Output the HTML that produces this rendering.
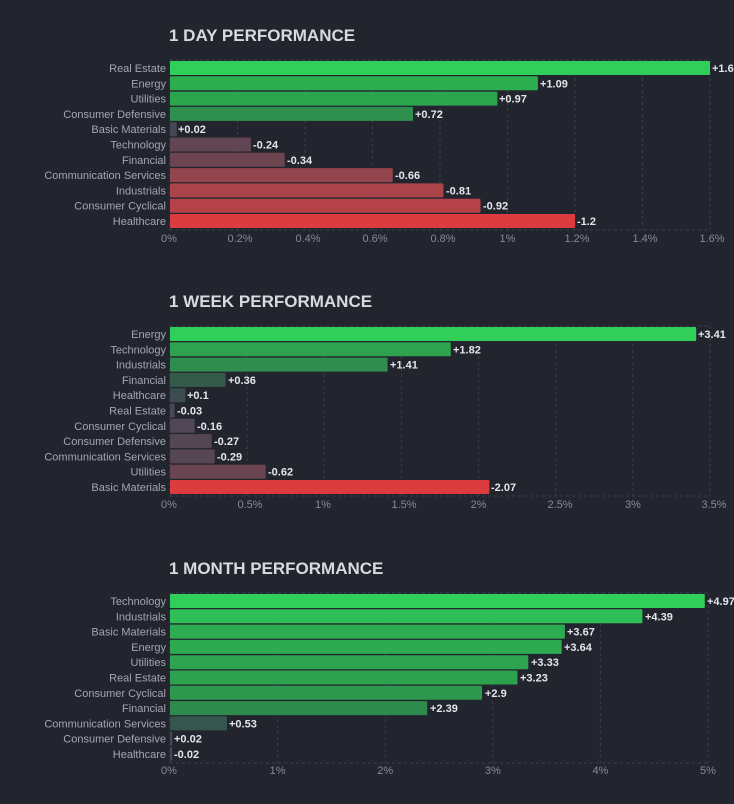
<!DOCTYPE html>
<html><head><meta charset="utf-8"><style>
html,body{margin:0;padding:0;background:#22252e;}
svg{display:block;font-family:"Liberation Sans",sans-serif;}
.t{font-size:17px;font-weight:bold;fill:#d8dae2;}
.c{font-size:11px;fill:#a3a6b4;text-anchor:end;}
.v{font-size:11px;font-weight:bold;fill:#e4e6ec;}
.k{font-size:11px;fill:#868a98;text-anchor:middle;}
.g{stroke:#3a3e4a;stroke-dasharray:3,3;stroke-width:1;}
</style></head><body>
<svg width="734" height="804" viewBox="0 0 734 804">
<!-- Chart 1 -->
<text class="t" x="169" y="41">1 DAY PERFORMANCE</text>
<line class="g" x1="170" y1="60" x2="710" y2="60"/>
<line class="g" x1="170" y1="230" x2="710" y2="230"/>
<g class="g"><line x1="170" y1="60" x2="170" y2="230"/><line x1="237.5" y1="60" x2="237.5" y2="230"/><line x1="305" y1="60" x2="305" y2="230"/><line x1="372.5" y1="60" x2="372.5" y2="230"/><line x1="440" y1="60" x2="440" y2="230"/><line x1="507.5" y1="60" x2="507.5" y2="230"/><line x1="575" y1="60" x2="575" y2="230"/><line x1="642.5" y1="60" x2="642.5" y2="230"/><line x1="710" y1="60" x2="710" y2="230"/></g>
<rect x="170" y="61" width="540" height="14" rx="1" fill="#30cf5a"/>
<rect x="170" y="76.3" width="367.9" height="14" rx="1" fill="#2cad4f"/>
<rect x="170" y="91.6" width="327.4" height="14" rx="1" fill="#2da44e"/>
<rect x="170" y="106.9" width="243" height="14" rx="1" fill="#2f8f4e"/>
<rect x="170" y="122.2" width="6.75" height="14" rx="1" fill="#454955"/>
<rect x="170" y="137.5" width="81" height="14" rx="1" fill="#624552"/>
<rect x="170" y="152.8" width="114.75" height="14" rx="1" fill="#6c4550"/>
<rect x="170" y="168.1" width="222.75" height="14" rx="1" fill="#94444c"/>
<rect x="170" y="183.4" width="273.4" height="14" rx="1" fill="#aa434a"/>
<rect x="170" y="198.7" width="310.5" height="14" rx="1" fill="#b44248"/>
<rect x="170" y="214" width="405" height="14" rx="1" fill="#dc3c3f"/>
<g class="c"><text x="166" y="72">Real Estate</text><text x="166" y="87.3">Energy</text><text x="166" y="102.6">Utilities</text><text x="166" y="117.9">Consumer Defensive</text><text x="166" y="133.2">Basic Materials</text><text x="166" y="148.5">Technology</text><text x="166" y="163.8">Financial</text><text x="166" y="179.1">Communication Services</text><text x="166" y="194.4">Industrials</text><text x="166" y="209.7">Consumer Cyclical</text><text x="166" y="225">Healthcare</text></g>
<g class="v"><text x="712" y="72">+1.6</text><text x="540" y="87.3">+1.09</text><text x="499" y="102.6">+0.97</text><text x="415" y="117.9">+0.72</text><text x="178" y="133.2">+0.02</text><text x="253" y="148.5">-0.24</text><text x="287" y="163.8">-0.34</text><text x="395" y="179.1">-0.66</text><text x="446" y="194.4">-0.81</text><text x="483" y="209.7">-0.92</text><text x="577" y="225">-1.2</text></g>
<g class="k"><text x="169" y="242">0%</text><text x="240" y="242">0.2%</text><text x="308" y="242">0.4%</text><text x="375" y="242">0.6%</text><text x="443" y="242">0.8%</text><text x="507.5" y="242">1%</text><text x="577" y="242">1.2%</text><text x="645" y="242">1.4%</text><text x="712" y="242">1.6%</text></g>

<!-- Chart 2 -->
<text class="t" x="169" y="307">1 WEEK PERFORMANCE</text>
<line class="g" x1="170" y1="326" x2="710" y2="326"/>
<line class="g" x1="170" y1="496" x2="710" y2="496"/>
<g class="g"><line x1="170" y1="326" x2="170" y2="496"/><line x1="247.1" y1="326" x2="247.1" y2="496"/><line x1="324.3" y1="326" x2="324.3" y2="496"/><line x1="401.4" y1="326" x2="401.4" y2="496"/><line x1="478.6" y1="326" x2="478.6" y2="496"/><line x1="555.7" y1="326" x2="555.7" y2="496"/><line x1="632.9" y1="326" x2="632.9" y2="496"/><line x1="710" y1="326" x2="710" y2="496"/></g>
<rect x="170" y="327" width="526.2" height="14" rx="1" fill="#30cf5a"/>
<rect x="170" y="342.3" width="280.8" height="14" rx="1" fill="#2ea24e"/>
<rect x="170" y="357.6" width="217.6" height="14" rx="1" fill="#2f8d4e"/>
<rect x="170" y="372.9" width="55.5" height="14" rx="1" fill="#365a4a"/>
<rect x="170" y="388.2" width="15.4" height="14" rx="1" fill="#3b4d50"/>
<rect x="170" y="403.5" width="4.6" height="14" rx="1" fill="#474956"/>
<rect x="170" y="418.8" width="24.7" height="14" rx="1" fill="#504756"/>
<rect x="170" y="434.1" width="41.7" height="14" rx="1" fill="#554654"/>
<rect x="170" y="449.4" width="44.7" height="14" rx="1" fill="#574654"/>
<rect x="170" y="464.7" width="95.7" height="14" rx="1" fill="#6a4551"/>
<rect x="170" y="480" width="319.4" height="14" rx="1" fill="#dc3c3f"/>
<g class="c"><text x="166" y="338">Energy</text><text x="166" y="353.3">Technology</text><text x="166" y="368.6">Industrials</text><text x="166" y="383.9">Financial</text><text x="166" y="399.2">Healthcare</text><text x="166" y="414.5">Real Estate</text><text x="166" y="429.8">Consumer Cyclical</text><text x="166" y="445.1">Consumer Defensive</text><text x="166" y="460.4">Communication Services</text><text x="166" y="475.7">Utilities</text><text x="166" y="491">Basic Materials</text></g>
<g class="v"><text x="698" y="338">+3.41</text><text x="453" y="353.3">+1.82</text><text x="390" y="368.6">+1.41</text><text x="228" y="383.9">+0.36</text><text x="187" y="399.2">+0.1</text><text x="177" y="414.5">-0.03</text><text x="197" y="429.8">-0.16</text><text x="214" y="445.1">-0.27</text><text x="217" y="460.4">-0.29</text><text x="268" y="475.7">-0.62</text><text x="491" y="491">-2.07</text></g>
<g class="k"><text x="169" y="508">0%</text><text x="250" y="508">0.5%</text><text x="323" y="508">1%</text><text x="404" y="508">1.5%</text><text x="478.6" y="508">2%</text><text x="560" y="508">2.5%</text><text x="632.9" y="508">3%</text><text x="714" y="508">3.5%</text></g>

<!-- Chart 3 -->
<text class="t" x="169" y="574">1 MONTH PERFORMANCE</text>
<line class="g" x1="170" y1="593" x2="710" y2="593"/>
<line class="g" x1="170" y1="763" x2="710" y2="763"/>
<g class="g"><line x1="170" y1="593" x2="170" y2="763"/><line x1="277.6" y1="593" x2="277.6" y2="763"/><line x1="385.2" y1="593" x2="385.2" y2="763"/><line x1="492.8" y1="593" x2="492.8" y2="763"/><line x1="600.4" y1="593" x2="600.4" y2="763"/><line x1="708" y1="593" x2="708" y2="763"/></g>
<rect x="170" y="594" width="534.8" height="14" rx="1" fill="#30cf5a"/>
<rect x="170" y="609.3" width="472.4" height="14" rx="1" fill="#2fbf56"/>
<rect x="170" y="624.6" width="394.9" height="14" rx="1" fill="#2eac51"/>
<rect x="170" y="639.9" width="391.7" height="14" rx="1" fill="#2eab51"/>
<rect x="170" y="655.2" width="358.3" height="14" rx="1" fill="#2ea350"/>
<rect x="170" y="670.5" width="347.5" height="14" rx="1" fill="#2ea14f"/>
<rect x="170" y="685.8" width="312" height="14" rx="1" fill="#2e984f"/>
<rect x="170" y="701.1" width="257.2" height="14" rx="1" fill="#2f8a4e"/>
<rect x="170" y="716.4" width="57" height="14" rx="1" fill="#36554c"/>
<rect x="170" y="731.7" width="2.2" height="14" rx="1" fill="#454955"/>
<rect x="170" y="747" width="2.2" height="14" rx="1" fill="#454955"/>
<g class="c"><text x="166" y="605">Technology</text><text x="166" y="620.3">Industrials</text><text x="166" y="635.6">Basic Materials</text><text x="166" y="650.9">Energy</text><text x="166" y="666.2">Utilities</text><text x="166" y="681.5">Real Estate</text><text x="166" y="696.8">Consumer Cyclical</text><text x="166" y="712.1">Financial</text><text x="166" y="727.4">Communication Services</text><text x="166" y="742.7">Consumer Defensive</text><text x="166" y="758">Healthcare</text></g>
<g class="v"><text x="707" y="605">+4.97</text><text x="645" y="620.3">+4.39</text><text x="567" y="635.6">+3.67</text><text x="564" y="650.9">+3.64</text><text x="531" y="666.2">+3.33</text><text x="520" y="681.5">+3.23</text><text x="485" y="696.8">+2.9</text><text x="430" y="712.1">+2.39</text><text x="229" y="727.4">+0.53</text><text x="174" y="742.7">+0.02</text><text x="174" y="758">-0.02</text></g>
<g class="k"><text x="169" y="774">0%</text><text x="277.6" y="774">1%</text><text x="385.2" y="774">2%</text><text x="492.8" y="774">3%</text><text x="600.4" y="774">4%</text><text x="708" y="774">5%</text></g>
</svg>
</body></html>
